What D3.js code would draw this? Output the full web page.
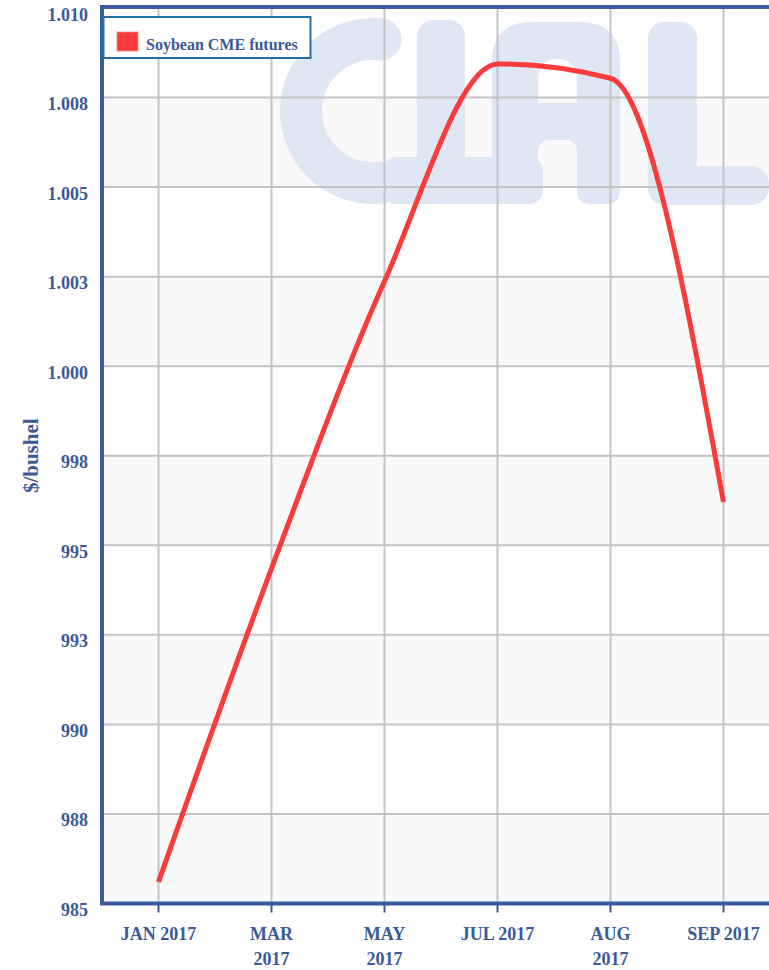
<!DOCTYPE html>
<html>
<head>
<meta charset="utf-8">
<script src="https://cdn.jsdelivr.net/npm/d3@7"></script>
<style>
  html, body { margin: 0; padding: 0; background: #ffffff; }
  svg { display: block; }
  text { font-family: "Liberation Serif", "Times New Roman", serif; font-weight: bold; }
</style>
</head>
<body>
<svg id="chart" width="769" height="970"></svg>
<script>
// ---- data ----
const categories = ["JAN 2017", "MAR 2017", "MAY 2017", "JUL 2017", "AUG 2017", "SEP 2017"];
const seriesName = "Soybean CME futures";
const soybean = [985.6, 994.35, 1002.37, 1008.44, 1008.04, 996.21];
const yTickValues = [985, 987.5, 990, 992.5, 995, 997.5, 1000, 1002.5, 1005, 1007.5, 1010];
const yTickLabels = ["985", "988", "990", "993", "995", "998", "1.000", "1.003", "1.005", "1.008", "1.010"];
const yTitle = "$/bushel";

// ---- layout ----
const W = 769, H = 970;
const plot = { left: 102, top: 8, bottom: 903.5, right: 780 };
const axisColor = "#3b5c9c";
const textColor = "#3a5a98";
const gridColor = "#c4c4c4";
const lineColor = "#f93b3b";

const svg = d3.select("#chart");

const x = d3.scalePoint().domain(categories).range([plot.left, plot.right]).padding(0.5);
const y = d3.scaleLinear().domain([985, 1010]).range([plot.bottom, plot.top]);

// alternating bands
const bands = d3.pairs(yTickValues);
svg.append("g").selectAll("rect").data(bands).join("rect")
  .attr("x", plot.left)
  .attr("width", plot.right - plot.left)
  .attr("y", d => y(d[1]))
  .attr("height", d => y(d[0]) - y(d[1]))
  .attr("fill", (d, i) => i % 2 === 0 ? "#f9f9f9" : "#ffffff");

// watermark "CIAL"
const wm = svg.append("g").attr("fill", "#dfe6f4");
(function () {
  const cx = 373, cy = 111, r = 72, a = 84 * Math.PI / 180;
  const x1 = cx + r * Math.cos(-a), y1 = cy + r * Math.sin(-a);
  const x2 = cx + r * Math.cos(a), y2 = cy + r * Math.sin(a);
  wm.append("path")
    .attr("d", `M${x1},${y1} A${r},${r} 0 1 0 ${x2},${y2}`)
    .attr("fill", "none").attr("stroke", "#dfe6f4")
    .attr("stroke-width", 42).attr("stroke-linecap", "round");
  wm.append("rect").attr("x", 383).attr("y", 157).attr("width", 160).attr("height", 47).attr("rx", 14);
  wm.append("rect").attr("x", 417).attr("y", 20).attr("width", 48).attr("height", 184).attr("rx", 16);
  wm.append("path").attr("fill-rule", "evenodd").attr("d",
    "M492,190 L492,62 Q492,22 532,22 L580,22 Q620,22 620,62 L620,190 Q620,204 606,204 L591,204 Q577,204 577,190 " +
    "L577,152 Q577,140 565,140 L550,140 Q538,140 538,152 L538,190 Q538,204 524,204 L506,204 Q492,204 492,190 Z " +
    "M538,103 L538,82 Q538,59 557.5,59 Q577,59 577,82 L577,103 Z");
  wm.append("rect").attr("x", 648).attr("y", 22).attr("width", 49).attr("height", 183).attr("rx", 16);
  wm.append("rect").attr("x", 648).attr("y", 166).attr("width", 121).attr("height", 39).attr("rx", 18);
})();

// gridlines
const grid = svg.append("g").attr("stroke", gridColor).attr("stroke-width", 2);
grid.selectAll("line.h").data(yTickValues).join("line").attr("class", "h")
  .attr("x1", plot.left).attr("x2", plot.right)
  .attr("y1", d => y(d)).attr("y2", d => y(d));
grid.selectAll("line.v").data(categories).join("line").attr("class", "v")
  .attr("x1", d => x(d)).attr("x2", d => x(d))
  .attr("y1", plot.top).attr("y2", plot.bottom);

// series line
const line = d3.line()
  .x((d, i) => x(categories[i]))
  .y(d => y(d))
  .curve(d3.curveMonotoneX);
svg.append("path").datum(soybean)
  .attr("d", line)
  .attr("fill", "none")
  .attr("stroke", lineColor)
  .attr("stroke-width", 5);

// frame: left, top, bottom
const frame = svg.append("g").attr("stroke", axisColor).attr("stroke-width", 4).attr("fill", "none");
frame.append("path").attr("d", `M${plot.left},${plot.bottom} L${plot.left},${plot.top - 1} L${W},${plot.top - 1}`);
frame.append("line").attr("x1", plot.left - 2).attr("x2", W).attr("y1", plot.bottom).attr("y2", plot.bottom);

// x ticks
svg.append("g").selectAll("line").data(categories).join("line")
  .attr("x1", d => x(d)).attr("x2", d => x(d))
  .attr("y1", plot.bottom).attr("y2", plot.bottom + 9)
  .attr("stroke", axisColor).attr("stroke-width", 2);

// x labels (wrap when too wide)
const xl = svg.append("g").attr("fill", textColor).attr("font-size", 18).attr("text-anchor", "middle");
categories.forEach(c => {
  const t = xl.append("text").attr("x", x(c)).attr("y", 940).text(c);
  const w = t.node().getComputedTextLength();
  if (w > 78) {
    const parts = c.split(" ");
    t.text(null);
    parts.forEach((p, j) => {
      t.append("tspan").attr("x", x(c)).attr("y", 940 + j * 25).text(p);
    });
  }
});

// y labels
svg.append("g").attr("fill", textColor).attr("font-size", 18).attr("text-anchor", "end")
  .selectAll("text").data(yTickValues).join("text")
  .attr("x", 88)
  .attr("y", d => y(d) + 12.5)
  .text((d, i) => yTickLabels[i]);

// y title
svg.append("text")
  .attr("transform", `translate(38,${(plot.top + plot.bottom) / 2}) rotate(-90)`)
  .attr("text-anchor", "middle")
  .attr("fill", textColor)
  .attr("font-size", 21)
  .text(yTitle);

// legend
const lg = svg.append("g");
lg.append("rect").attr("x", 103.5).attr("y", 17).attr("width", 207).attr("height", 41)
  .attr("fill", "#ffffff").attr("stroke", "#2470a6").attr("stroke-width", 2);
lg.append("rect").attr("x", 117).attr("y", 32).attr("width", 21).attr("height", 19)
  .attr("fill", lineColor).attr("stroke", "#fb8a8a").attr("stroke-width", 0.8);
lg.append("text").attr("x", 146).attr("y", 49.5).attr("fill", textColor).attr("font-size", 16).text(seriesName);
</script>
</body>
</html>
